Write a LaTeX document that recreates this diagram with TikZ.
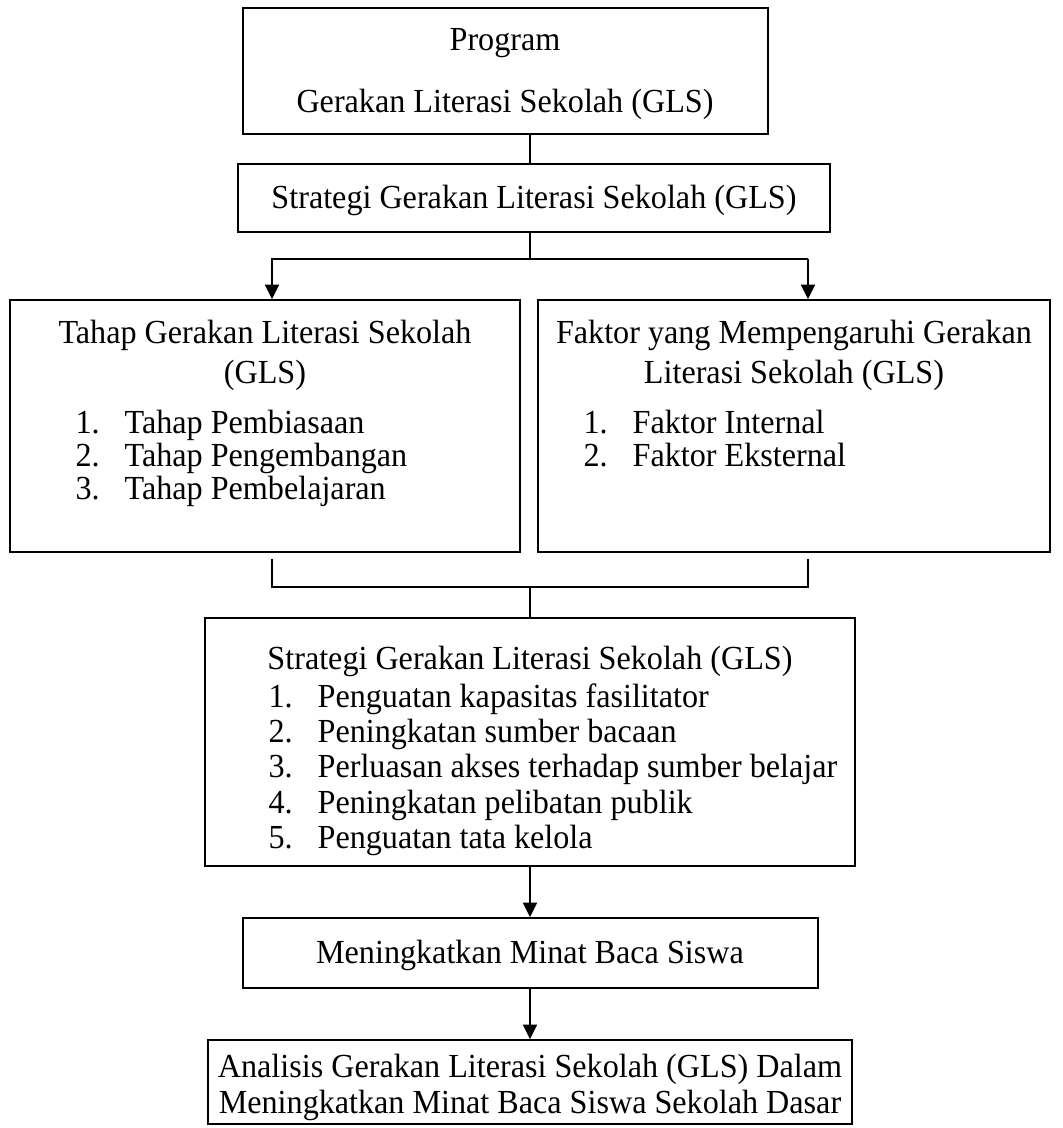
\documentclass[tikz,border=0pt]{standalone}
\usepackage{fontspec}
\setmainfont{Liberation Serif}[FakeStretch=0.955]
\usetikzlibrary{arrows.meta, fit}

\begin{document}
\begin{tikzpicture}[x=0.3564pt, y=-0.3564pt,
    kotak/.style={draw, line width=0.65pt, inner sep=0pt},
    teks/.style={font=\fontsize{12}{14}\selectfont, inner sep=0pt, anchor=mid},
    butir/.style={teks, anchor=mid west},
    garis/.style={line width=0.65pt},
    panah/.style={line width=0.65pt, -{Triangle[width=5pt,length=5.2pt]}}]
    \useasboundingbox (0,0) rectangle (1063,1128);

    \node[kotak, fit={(243,8) (768,134)}] (program) {};
    \node[teks] (program1) at (505,44) {Program};
    \node[teks] (program2) at (505,106) {Gerakan Literasi Sekolah (GLS)};

    \node[kotak, fit={(238,164) (830,232)}] (strat) {};
    \node[teks] (stratTeks) at (534,202) {Strategi Gerakan Literasi Sekolah (GLS)};

    \node[kotak, fit={(10,300) (520,552)}] (tahap) {};
    \node[teks] (tahapJudul1) at (265,337) {Tahap Gerakan Literasi Sekolah};
    \node[teks] (tahapJudul2) at (265,377) {(GLS)};
    \foreach \isi [count=\i] in {Tahap Pembiasaan, Tahap Pengembangan, Tahap Pembelajaran}
        \node[butir] (tahap\i) at (75,{427+33*(\i-1)}) {\makebox[17.5pt][l]{\i.}\isi};

    \node[kotak, fit={(538,300) (1050,552)}] (faktor) {};
    \node[teks] (faktorJudul1) at (794,337) {Faktor yang Mempengaruhi Gerakan};
    \node[teks] (faktorJudul2) at (794,377) {Literasi Sekolah (GLS)};
    \foreach \isi [count=\i] in {Faktor Internal, Faktor Eksternal}
        \node[butir] (faktor\i) at (583,{427+33*(\i-1)}) {\makebox[17.5pt][l]{\i.}\isi};

    \node[kotak, fit={(205,618) (855,866)}] (besar) {};
    \node[teks] (besarJudul) at (530,663) {Strategi Gerakan Literasi Sekolah (GLS)};
    \foreach \isi [count=\i] in {Penguatan kapasitas fasilitator, Peningkatan sumber bacaan,
        Perluasan akses terhadap sumber belajar, Peningkatan pelibatan publik, Penguatan tata kelola}
        \node[butir] (besar\i) at (268,{701+35.25*(\i-1)}) {\makebox[17.5pt][l]{\i.}\isi};

    \node[kotak, fit={(243,918) (818,988)}] (minat) {};
    \node[teks] (minatTeks) at (530,957) {Meningkatkan Minat Baca Siswa};

    \node[kotak, fit={(208,1040) (852,1124)}] (analisis) {};
    \node[teks] (analisis1) at (530,1071) {Analisis Gerakan Literasi Sekolah (GLS) Dalam};
    \node[teks] (analisis2) at (530,1107) {Meningkatkan Minat Baca Siswa Sekolah Dasar};

    \coordinate (tengah) at (530,0);
    \coordinate (kiri) at (272,259);
    \coordinate (kanan) at (808,259);
    \coordinate (kiriB) at (272,587);
    \coordinate (kananB) at (808,587);

    \draw[garis] (program.south -| tengah) -- (strat.north -| tengah);
    \draw[garis] (strat.south -| tengah) -- (tengah |- kiri);
    \draw[panah] (kanan) -- (kiri) -- (kiri |- tahap.north);
    \draw[panah] (kanan) -- (kanan |- faktor.north);
    \draw[garis, shorten <=2.1pt, shorten >=2.1pt] (kiri |- tahap.south) -- (kiriB) -- (kananB) -- (kanan |- faktor.south);
    \draw[garis] (tengah |- kiriB) -- (besar.north -| tengah);
    \draw[panah] (besar.south -| tengah) -- (minat.north -| tengah);
    \draw[panah] (minat.south -| tengah) -- (analisis.north -| tengah);
\end{tikzpicture}
\end{document}
